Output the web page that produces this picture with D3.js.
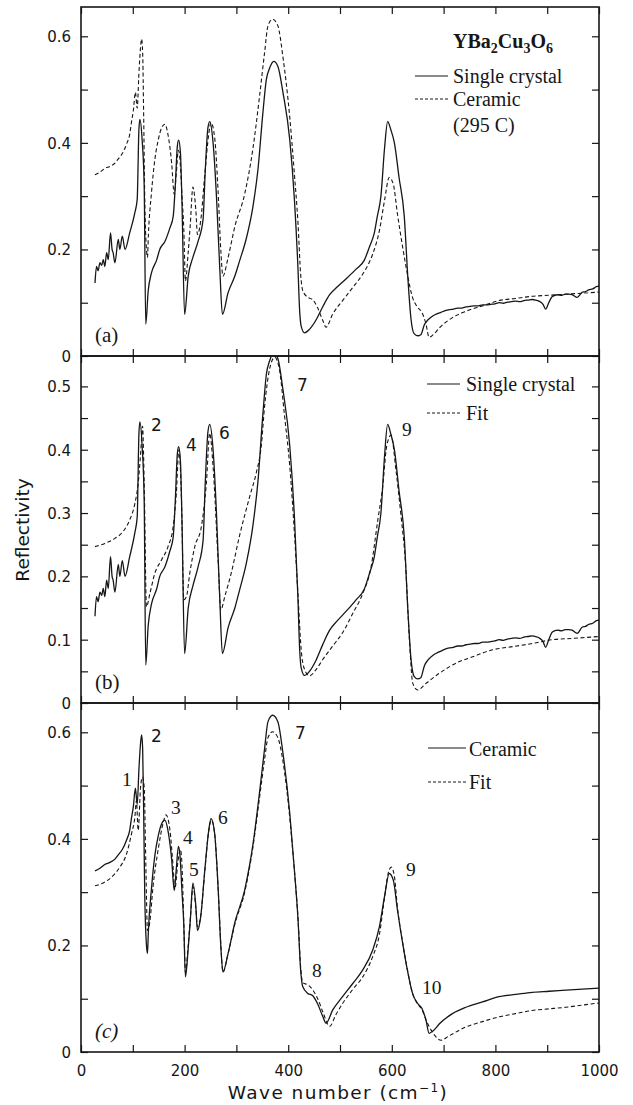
<!DOCTYPE html>
<html>
<head>
<meta charset="utf-8">
<script src="https://cdn.jsdelivr.net/npm/d3@7"></script>
<style>
  html, body { margin: 0; padding: 0; background: #fff; }
  svg { display: block; }
</style>
</head>
<body>
<script>
// ---------------- DATA ----------------
// Wave number (cm^-1), reflectivity
const singleCrystal = [
  [27,0.137],[30,0.168],[33,0.16],[36.6,0.175],[40,0.17],[43,0.181],[46,0.168],[49.5,0.194],[52.6,0.181],
  [57,0.231],[60,0.2],[62,0.194],[65.5,0.175],[72,0.219],[75,0.2],[79.7,0.225],[85,0.2],[94,0.231],
  [104,0.269],[108.5,0.294],[111.8,0.425],[113.7,0.444],[118,0.406],[122,0.319],[125,0.06],[129.7,0.122],
  [136,0.156],[146,0.18],[152,0.2],[162,0.215],[171.5,0.24],[178,0.262],[182,0.319],[186,0.394],
  [188.5,0.405],[192,0.381],[195,0.285],[200,0.078],[207,0.15],[216,0.185],[226,0.215],[235.6,0.256],
  [240,0.35],[245,0.428],[248.5,0.44],[255,0.4],[261.5,0.3],[268,0.162],[273,0.078],[284,0.119],
  [297,0.15],[306,0.178],[319,0.22],[332,0.281],[341.6,0.35],[351,0.455],[358,0.52],[364,0.54],
  [372,0.553],[380,0.544],[390,0.494],[403,0.406],[412,0.294],[418.7,0.168],[422,0.087],[425,0.056],
  [431.6,0.0435],[441,0.05],[454,0.068],[467,0.093],[480,0.115],[495,0.13],[512,0.145],[531,0.163],
  [547,0.18],[557,0.205],[566,0.23],[572,0.262],[579,0.3],[586,0.39],[592,0.44],[598,0.425],[605,0.4],
  [614,0.335],[624,0.263],[631,0.147],[637,0.07],[643,0.042],[650,0.038],[656,0.04],[663,0.059],
  [670,0.068],[679,0.075],[687,0.079],[695,0.082],[703,0.085],[711,0.087],[719,0.088],[727,0.09],
  [735,0.09],[743,0.092],[751,0.093],[759,0.094],[767,0.094],[775,0.096],[783,0.096],[791,0.097],
  [799,0.098],[807,0.1],[815,0.099],[823,0.101],[831,0.102],[839,0.103],[847,0.102],[855,0.104],
  [863,0.105],[871,0.106],[878,0.105],[884,0.103],[892,0.097],[897,0.088],[903,0.1],[910,0.112],
  [920,0.115],[928,0.114],[935,0.116],[942,0.116],[948,0.115],[958,0.11],[968,0.12],[974,0.121],
  [980,0.124],[988,0.126],[995,0.13],[1000,0.131]
];
const ceramic = [
  [27,0.34],[36.6,0.345],[46,0.352],[56,0.356],[65.5,0.362],[72,0.37],[79.7,0.38],[88,0.398],[94,0.416],
  [97.6,0.44],[101,0.46],[105,0.495],[108.5,0.465],[111.8,0.53],[115,0.58],[117,0.595],[119,0.57],
  [121,0.45],[123,0.3],[126.4,0.2],[128.4,0.185],[130,0.225],[136,0.306],[142.6,0.369],[149,0.405],
  [155.5,0.428],[162,0.435],[168,0.415],[175,0.362],[180,0.303],[184,0.344],[188,0.386],[191,0.37],
  [195,0.3],[198.4,0.24],[201.6,0.141],[207,0.195],[211,0.247],[216,0.317],[221.6,0.275],[224.8,0.228],
  [231,0.253],[239,0.341],[246.6,0.416],[251,0.438],[258,0.41],[264.6,0.31],[270,0.197],[274,0.15],
  [284,0.185],[297,0.243],[316,0.304],[332,0.39],[345,0.49],[354.5,0.57],[361,0.62],[370,0.632],
  [380,0.62],[390,0.56],[403,0.448],[412,0.341],[419,0.248],[424,0.154],[428,0.123],[438,0.11],
  [447,0.106],[457,0.09],[467,0.066],[473,0.054],[486,0.079],[505,0.104],[525,0.129],[544,0.154],
  [563,0.191],[576,0.235],[586,0.292],[595,0.335],[603,0.322],[611,0.266],[621,0.204],[630,0.154],
  [640,0.11],[650,0.091],[658,0.082],[666,0.06],[672,0.035],[680,0.04],[692,0.053],[717,0.072],
  [743,0.084],[775,0.094],[807,0.104],[839,0.108],[871,0.112],[904,0.114],[936,0.116],[968,0.118],
  [1000,0.12]
];
const fitSingle = [
  [27,0.247],[46,0.252],[65.5,0.26],[81.5,0.271],[94,0.289],[104,0.315],[110.4,0.347],[115.6,0.4],
  [118.8,0.437],[122,0.347],[126.4,0.152],[133,0.173],[142.6,0.205],[155.5,0.226],[168,0.247],
  [178,0.279],[184,0.331],[189,0.4],[194,0.321],[198.5,0.163],[203.6,0.168],[210,0.205],[219.7,0.247],
  [232.5,0.279],[242,0.347],[248.5,0.426],[255,0.373],[264.6,0.226],[270,0.147],[277.5,0.168],
  [290,0.205],[306,0.264],[326,0.327],[338.5,0.364],[348,0.406],[354.5,0.469],[364,0.527],[374,0.546],
  [383,0.527],[393,0.453],[403,0.374],[412,0.269],[419,0.169],[425,0.085],[431.6,0.053],[441,0.043],
  [454,0.053],[467,0.069],[486,0.09],[505,0.111],[525,0.142],[544,0.173],[560,0.215],[573,0.289],
  [582.5,0.342],[590,0.405],[598.6,0.423],[608,0.368],[618,0.294],[626,0.226],[634,0.1],[640.5,0.031],
  [650,0.0205],[666,0.031],[692,0.047],[724,0.063],[756,0.073],[794.5,0.084],[833,0.089],[871.5,0.094],
  [910,0.1],[948.6,0.102],[1000,0.105]
];
const fitCeramic = [
  [27,0.312],[46,0.319],[62,0.331],[75,0.347],[88,0.372],[97.6,0.41],[104,0.441],[107,0.472],
  [110.4,0.416],[115,0.497],[118.7,0.516],[122,0.497],[125,0.36],[128.4,0.228],[133,0.245],[139,0.31],
  [149,0.38],[158.6,0.43],[164,0.445],[171.5,0.418],[178,0.345],[181,0.305],[187.5,0.36],[192,0.38],
  [195,0.35],[198.4,0.245],[201.6,0.15],[207,0.2],[211,0.25],[216.5,0.31],[221.6,0.27],[224.8,0.235],
  [231,0.255],[239,0.34],[246.6,0.415],[251.8,0.435],[258,0.41],[264.6,0.31],[270,0.2],[274,0.15],
  [284,0.185],[297,0.24],[316,0.3],[332,0.385],[345,0.48],[354.5,0.55],[361,0.59],[370,0.601],
  [380,0.59],[390,0.545],[403,0.44],[412,0.34],[419,0.25],[424,0.16],[428,0.13],[438,0.126],
  [447,0.117],[457,0.1],[467,0.075],[480,0.048],[492,0.07],[505,0.091],[525,0.118],[544,0.141],
  [563,0.179],[576,0.22],[586,0.29],[593,0.335],[599,0.347],[605,0.33],[611,0.27],[621,0.205],
  [630,0.155],[640,0.11],[650,0.09],[658,0.08],[666,0.06],[680,0.035],[695,0.022],[710,0.03],
  [743,0.047],[775,0.057],[807,0.066],[839,0.072],[871,0.078],[904,0.081],[936,0.084],[968,0.088],
  [1000,0.092]
];

const xTicks = [0,100,200,300,400,500,600,700,800,900,1000];
const xTickLabels = [0,200,400,600,800,1000];
const yTicksAC = [0,0.1,0.2,0.3,0.4,0.5,0.6];
const yLabelsAC = [0,0.2,0.4,0.6];
const yTicksB = [0,0.05,0.1,0.15,0.2,0.25,0.3,0.35,0.4,0.45,0.5];
const yLabelsB = [0,0.1,0.2,0.3,0.4,0.5];

const panelTags = ["(a)", "(b)", "(c)"];
const legendA = ["Single crystal", "Ceramic", "(295 C)"];
const legendB = ["Single crystal", "Fit"];
const legendC = ["Ceramic", "Fit"];
// label, x, y, sans?
const peaksB = [["2",151,431,1],["4",186,451,1],["6",219,439,1],["7",297,391,1],["9",402,436,0]];
const peaksC = [["1",122,786,0],["2",151,742,1],["3",171,814,0],["4",183,844,0],["5",189,876,0],["6",218,824,0],
                ["7",295,739,1],["8",312,977,0],["9",406,876,0],["10",422,994,0]];

// ---------------- LAYOUT ----------------
const W = 633, H = 1105;
const X0 = 81, X1 = 599;
const panels = [
  {top: 7,   bottom: 356, ymax: 0.655, ticks: yTicksAC, labels: yLabelsAC, tag: panelTags[0]},
  {top: 356, bottom: 703, ymax: 0.548, ticks: yTicksB,  labels: yLabelsB,  tag: panelTags[1]},
  {top: 703, bottom: 1052, ymax: 0.655, ticks: yTicksAC, labels: yLabelsAC, tag: panelTags[2]}
];
const ink = "#161616";
const sans = "'DejaVu Sans', sans-serif";
const serif = "'Liberation Serif', 'DejaVu Serif', serif";

const svg = d3.select("body").append("svg").attr("width", W).attr("height", H);
const x = d3.scaleLinear().domain([0, 1000]).range([X0, X1]);

panels.forEach((p, i) => {
  p.y = d3.scaleLinear().domain([0, p.ymax]).range([p.bottom, p.top]);
  const g = svg.append("g");
  g.append("clipPath").attr("id", "clip" + i)
    .append("rect").attr("x", X0).attr("y", p.top).attr("width", X1 - X0).attr("height", p.bottom - p.top);

  const tl = 7;
  g.append("g").attr("transform", `translate(0,${p.bottom})`)
    .call(d3.axisTop(x).tickValues(xTicks).tickSize(tl).tickFormat(""));
  g.append("g").attr("transform", `translate(0,${p.top})`)
    .call(d3.axisBottom(x).tickValues(xTicks).tickSize(tl).tickFormat(""));
  g.append("g").attr("transform", `translate(${X0},0)`)
    .call(d3.axisRight(p.y).tickValues(p.ticks).tickSize(tl).tickFormat(""));
  g.append("g").attr("transform", `translate(${X1},0)`)
    .call(d3.axisLeft(p.y).tickValues(p.ticks).tickSize(tl).tickFormat(""));
  g.selectAll(".domain").remove();
  g.selectAll(".tick line").attr("stroke", ink).attr("stroke-width", 1.2);

  g.append("g").attr("transform", `translate(${X0 - 10},0)`)
    .call(d3.axisLeft(p.y).tickValues(p.labels).tickSize(0)
      .tickFormat(d => d === 0 ? "0" : d3.format(".1f")(d)))
    .call(a => a.select(".domain").remove())
    .selectAll("text").attr("font-family", sans).attr("font-size", 15).attr("fill", ink)
      .attr("dx", 0).attr("dy", "0.36em").attr("x", 0);

  g.append("rect").attr("x", X0).attr("y", p.top).attr("width", X1 - X0).attr("height", p.bottom - p.top)
    .attr("fill", "none").attr("stroke", ink).attr("stroke-width", 1.6);

  g.append("text").attr("x", 95).attr("y", p.bottom - 14)
    .attr("font-family", serif).attr("font-size", 21).attr("fill", ink)
    .attr("font-style", i === 2 ? "italic" : "normal").text(p.tag);
});

// ---------- curves ----------
function draw(panelIdx, data, dashed, width) {
  const p = panels[panelIdx];
  const line = d3.line().x(d => x(d[0])).y(d => p.y(d[1])).curve(d3.curveMonotoneX);
  svg.append("path").datum(data)
    .attr("clip-path", `url(#clip${panelIdx})`)
    .attr("d", line).attr("fill", "none").attr("stroke", ink)
    .attr("stroke-width", width)
    .attr("stroke-dasharray", dashed ? "4,2.6" : null)
    .attr("stroke-linejoin", "round");
}
draw(0, ceramic, true, 1.1);
draw(0, singleCrystal, false, 1.3);
draw(1, fitSingle, true, 1.1);
draw(1, singleCrystal, false, 1.3);
draw(2, fitCeramic, true, 1.1);
draw(2, ceramic, false, 1.3);

// ---------- x tick labels ----------
svg.append("g").attr("transform", `translate(0,${panels[2].bottom + 10})`)
  .call(d3.axisBottom(x).tickValues(xTickLabels).tickSize(0).tickFormat(d3.format("d")))
  .call(a => a.select(".domain").remove())
  .selectAll("text").attr("font-family", sans).attr("font-size", 15).attr("fill", ink);

// ---------- axis titles ----------
svg.append("text").attr("x", 338).attr("y", 1099).attr("text-anchor", "middle")
  .attr("font-family", sans).attr("font-size", 18.5).attr("letter-spacing", 1.4).attr("fill", ink)
  .html("Wave number (cm<tspan dy='-7' font-size='12'>−1</tspan><tspan dy='7'>)</tspan>");
svg.append("text").attr("transform", "translate(29,530) rotate(-90)").attr("text-anchor", "middle")
  .attr("font-family", sans).attr("font-size", 18.5).attr("fill", ink).text("Reflectivity");

// ---------- legends ----------
function legendLine(x1, x2, yy, dashed) {
  svg.append("line").attr("x1", x1).attr("x2", x2).attr("y1", yy).attr("y2", yy)
    .attr("stroke", ink).attr("stroke-width", dashed ? 1 : 1.2)
    .attr("stroke-dasharray", dashed ? "3,2" : null);
}
function legendText(tx, ty, s) {
  svg.append("text").attr("x", tx).attr("y", ty).attr("font-family", serif)
    .attr("font-size", 20).attr("fill", ink).text(s);
}
svg.append("text").attr("x", 453).attr("y", 48).attr("font-family", serif).attr("font-size", 20)
  .attr("font-weight", "bold").attr("fill", ink)
  .html("YBa<tspan dy='5' font-size='14'>2</tspan><tspan dy='-5'>Cu</tspan><tspan dy='5' font-size='14'>3</tspan><tspan dy='-5'>O</tspan><tspan dy='5' font-size='14'>6</tspan>");
legendLine(415, 448, 76, false); legendText(453, 83, legendA[0]);
legendLine(415, 448, 99, true);  legendText(453, 106, legendA[1]);
legendText(453, 132, legendA[2]);
legendLine(427, 460, 384, false); legendText(466, 391, legendB[0]);
legendLine(427, 460, 413, true);  legendText(466, 420, legendB[1]);
legendLine(428, 466, 748, false); legendText(469, 756, legendC[0]);
legendLine(428, 466, 782, true);  legendText(469, 789, legendC[1]);

// ---------- peak numbers ----------
peaksB.concat(peaksC).forEach(([s, px, py, isSans]) => {
  svg.append("text").attr("x", px).attr("y", py)
    .attr("font-family", isSans ? sans : serif).attr("font-size", isSans ? 17 : 19.5)
    .attr("fill", ink).text(s);
});
</script>
</body>
</html>
